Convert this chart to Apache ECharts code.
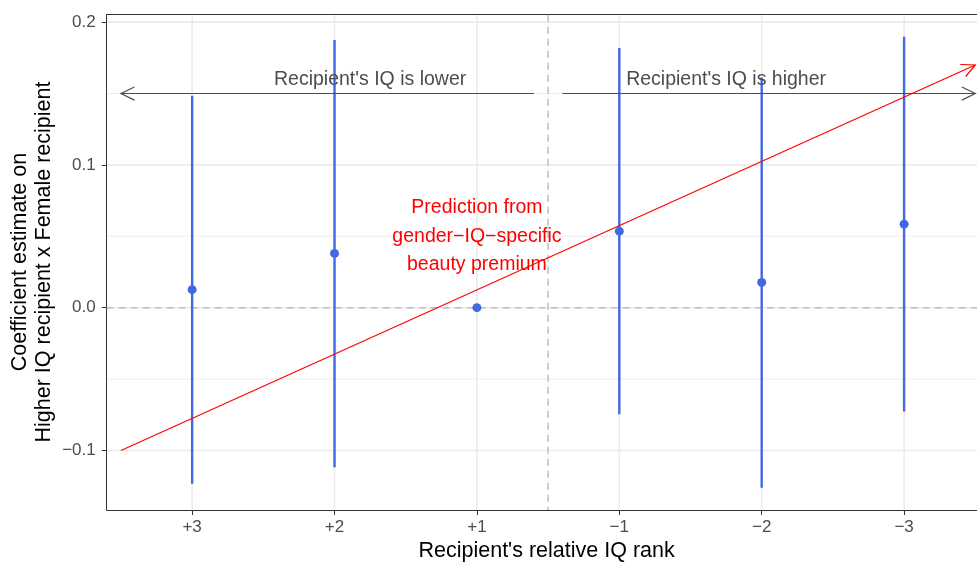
<!DOCTYPE html>
<html>
<head>
<meta charset="utf-8">
<title>Coefficient estimates by relative IQ rank</title>
<script src="https://cdn.jsdelivr.net/npm/echarts@6/dist/echarts.min.js"></script>
<style>
  html, body { margin: 0; padding: 0; background: #fff; }
  #chart { width: 977px; height: 562px; }
</style>
</head>
<body>
<div id="chart"></div>
<script>
// Relative IQ rank categories (left to right) and their numeric positions
const positions = [1, 2, 3, 4, 5, 6];
const rankLabels = ['+3', '+2', '+1', '\u22121', '\u22122', '\u22123'];

// Coefficient estimates with 95% confidence bounds (+1 is the reference group)
const estimate = [0.0126, 0.0380, 0.0, 0.0536, 0.0177, 0.0585];
const ciLower = [-0.1233, -0.1117, null, -0.0746, -0.1261, -0.0727];
const ciUpper = [0.1485, 0.1874, null, 0.1818, 0.1613, 0.1897];

// y axis ticks
const yMajor = [-0.1, 0.0, 0.1, 0.2];
const yTickLabels = ['\u22120.1', '0.0', '0.1', '0.2'];
const yMinor = [-0.05, 0.05, 0.15];

// reference lines
const zeroLine = [0];
const splitAt = [3.5];

// prediction line from the gender-IQ-specific beauty premium: [x1, y1, x2, y2]
const predictionSegment = [[0.5, -0.1, 6.5, 0.17]];
const predictionText = [[3, 0.05, 'Prediction from\ngender\u2212IQ\u2212specific\nbeauty premium']];

// direction arrows above the estimates: [x1, y1, x2, y2], head drawn at the outer end
const lowerArrow = [[3.4, 0.15, 0.5, 0.15]];
const higherArrow = [[3.6, 0.15, 6.5, 0.15]];
const sideText = [[2.25, 0.16, "Recipient's IQ is lower"], [4.75, 0.16, "Recipient's IQ is higher"]];

const FONT = '"Liberation Sans", Arial, Helvetica, sans-serif';
const GRID_LEFT = 106.7;
const X_MIN = 0.4, X_MAX = 6.512;
const Y_MIN = -0.1417, Y_MAX = 0.2052;

const chart = echarts.init(document.getElementById('chart'), null, { renderer: 'canvas' });

function hLineItem(style) {
  return function (params, api) {
    const cs = params.coordSys;
    const y = api.coord([X_MIN, api.value(0)])[1];
    return { type: 'line', shape: { x1: cs.x, y1: y, x2: cs.x + cs.width, y2: y }, style: style, silent: true };
  };
}
function vLineItem(style) {
  return function (params, api) {
    const cs = params.coordSys;
    const x = api.coord([api.value(0), 0])[0];
    return { type: 'line', shape: { x1: x, y1: cs.y, x2: x, y2: cs.y + cs.height }, style: style, silent: true };
  };
}

function headPoints(tip, from, len, ang) {
  const a = Math.atan2(from[1] - tip[1], from[0] - tip[0]);
  return [
    [tip[0] + len * Math.cos(a + ang), tip[1] + len * Math.sin(a + ang)],
    tip,
    [tip[0] + len * Math.cos(a - ang), tip[1] + len * Math.sin(a - ang)]
  ];
}

// straight segment with an open arrow head at its second end
function arrowItem(color, width) {
  return function (params, api) {
    const p1 = api.coord([api.value(0), api.value(1)]);
    const p2 = api.coord([api.value(2), api.value(3)]);
    const style = { stroke: color, lineWidth: width, fill: null };
    const len = 15, ang = 26 * Math.PI / 180;
    return {
      type: 'group', silent: true,
      children: [
        { type: 'line', shape: { x1: p1[0], y1: p1[1], x2: p2[0], y2: p2[1] }, style: style },
        { type: 'polyline', shape: { points: headPoints(p2, p1, len, ang) }, style: style }
      ]
    };
  };
}

function textItem(color, size, lineHeight) {
  return function (params, api) {
    const p = api.coord([api.value(0), api.value(1)]);
    return {
      type: 'text', x: p[0], y: p[1], silent: true,
      style: { text: api.value(2), fill: color, font: size + 'px ' + FONT, align: 'center', verticalAlign: 'middle', lineHeight: lineHeight }
    };
  };
}

const errorBarData = positions.map((p, i) => [p, ciLower[i], ciUpper[i]]).filter(d => d[1] !== null);

const option = {
  animation: false,
  backgroundColor: '#ffffff',
  grid: { left: GRID_LEFT, right: 0, top: 14.7, bottom: 52, show: false },
  xAxis: [
    {
      type: 'value', min: X_MIN, max: X_MAX,
      axisLine: { show: true, onZero: false, lineStyle: { color: '#333333', width: 1 } },
      axisTick: { show: true, length: 5, customValues: positions, lineStyle: { color: '#333333', width: 1 } },
      axisLabel: {
        customValues: positions, color: '#4D4D4D', fontSize: 17, fontFamily: FONT, margin: 9,
        formatter: v => rankLabels[positions.indexOf(Math.round(v))]
      },
      splitLine: { show: false }
    },
    { // top edge of the panel
      type: 'value', position: 'top', min: X_MIN, max: X_MAX,
      axisLine: { show: true, onZero: false, lineStyle: { color: '#333333', width: 1 } },
      axisTick: { show: false }, axisLabel: { show: false }, splitLine: { show: false }
    }
  ],
  yAxis: {
    type: 'value', min: Y_MIN, max: Y_MAX,
    axisLine: { show: true, onZero: false, lineStyle: { color: '#333333', width: 1 } },
    axisTick: { show: true, length: 5, customValues: yMajor, lineStyle: { color: '#333333', width: 1 } },
    axisLabel: {
      customValues: yMajor, color: '#4D4D4D', fontSize: 17, fontFamily: FONT, margin: 11,
      formatter: v => {
        const i = yMajor.findIndex(t => Math.abs(t - v) < 1e-9);
        return i >= 0 ? yTickLabels[i] : '';
      }
    },
    splitLine: { show: false }
  },
  series: [
    { // minor horizontal grid
      type: 'custom', z: 0, data: yMinor.map(v => [v]), encode: { y: 0 },
      renderItem: hLineItem({ stroke: '#EBEBEB', lineWidth: 0.9 })
    },
    { // major horizontal grid
      type: 'custom', z: 0, data: yMajor.map(v => [v]), encode: { y: 0 },
      renderItem: hLineItem({ stroke: '#EBEBEB', lineWidth: 1.6 })
    },
    { // major vertical grid
      type: 'custom', z: 0, data: positions.map(v => [v]), encode: { x: 0 },
      renderItem: vLineItem({ stroke: '#EBEBEB', lineWidth: 1.6 })
    },
    { // zero line
      type: 'custom', z: 1, data: zeroLine.map(v => [v]), encode: { y: 0 },
      renderItem: hLineItem({ stroke: '#BEBEBE', lineWidth: 1.5, lineDash: [7, 5] })
    },
    { // split between lower and higher IQ recipients
      type: 'custom', z: 1, data: splitAt.map(v => [v]), encode: { x: 0 },
      renderItem: vLineItem({ stroke: '#BEBEBE', lineWidth: 1.5, lineDash: [7, 5] })
    },
    { // confidence intervals
      type: 'custom', z: 2, data: errorBarData, encode: { x: 0, y: [1, 2] },
      renderItem: function (params, api) {
        const lo = api.coord([api.value(0), api.value(1)]);
        const hi = api.coord([api.value(0), api.value(2)]);
        return { type: 'line', shape: { x1: lo[0], y1: lo[1], x2: hi[0], y2: hi[1] }, style: { stroke: '#4169E1', lineWidth: 2.4 }, silent: true };
      }
    },
    { // point estimates
      type: 'scatter', z: 3, symbol: 'circle', symbolSize: 9,
      itemStyle: { color: '#4169E1', opacity: 1 },
      data: positions.map((p, i) => [p, estimate[i]]), silent: true
    },
    { // arrow towards lower-IQ recipients
      type: 'custom', z: 4, data: lowerArrow, encode: { x: [0, 2], y: [1, 3] },
      renderItem: arrowItem('#4D4D4D', 1.2)
    },
    { // arrow towards higher-IQ recipients
      type: 'custom', z: 4, data: higherArrow, encode: { x: [0, 2], y: [1, 3] },
      renderItem: arrowItem('#4D4D4D', 1.2)
    },
    { // prediction line
      type: 'custom', z: 4, data: predictionSegment, encode: { x: [0, 2], y: [1, 3] },
      renderItem: arrowItem('#FF0000', 1.2)
    },
    { // arrow captions
      type: 'custom', z: 5, data: sideText, encode: { x: 0, y: 1 },
      renderItem: textItem('#4D4D4D', 19.5, 24)
    },
    { // prediction caption
      type: 'custom', z: 5, data: predictionText, encode: { x: 0, y: 1 },
      renderItem: textItem('#FF0000', 19.5, 28.5)
    }
  ],
  graphic: [
    {
      type: 'text', x: 546.6, y: 551.5,
      style: { text: "Recipient's relative IQ rank", fill: '#000', font: '21.5px ' + FONT, align: 'center', verticalAlign: 'middle' }
    },
    {
      type: 'text', x: 32, y: 262, rotation: Math.PI / 2,
      style: { text: 'Coefficient estimate on\nHigher IQ recipient x Female recipient', fill: '#000', font: '21.5px ' + FONT, align: 'center', verticalAlign: 'middle', lineHeight: 23.5 }
    }
  ]
};

chart.setOption(option);
</script>
</body>
</html>
